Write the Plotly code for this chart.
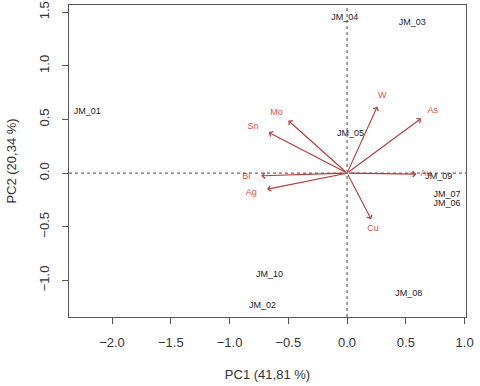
import plotly.graph_objects as go

# sample scores (PC1, PC2)
samples = ['JM_01', 'JM_02', 'JM_03', 'JM_04', 'JM_05', 'JM_06', 'JM_07', 'JM_08', 'JM_09', 'JM_10']
sample_pc1 = [-2.21, -0.72, 0.555, -0.02, 0.03, 0.85, 0.85, 0.525, 0.78, -0.66]
sample_pc2 = [0.57, -1.235, 1.406, 1.45, 0.363, -0.286, -0.205, -1.12, -0.03, -0.947]

# variable loadings (arrow tips) and label positions
variables = ['W', 'As', 'Mo', 'Sn', 'Bi', 'Ag', 'Cu', 'Au']
var_pc1 = [0.257, 0.63, -0.50, -0.667, -0.73, -0.68, 0.205, 0.59]
var_pc2 = [0.62, 0.51, 0.49, 0.38, -0.025, -0.15, -0.43, -0.01]
lab_pc1 = [0.30, 0.73, -0.60, -0.80, -0.857, -0.815, 0.22, 0.67]
lab_pc2 = [0.72, 0.58, 0.56, 0.43, -0.03, -0.186, -0.52, -0.01]

x_ticks = [-2.0, -1.5, -1.0, -0.5, 0.0, 0.5, 1.0]
y_ticks = [-1.0, -0.5, 0.0, 0.5, 1.0, 1.5]

arrow_col = '#b03c3c'
label_col = '#d9534f'

fig = go.Figure()

# variable labels
fig.add_trace(go.Scatter(
    x=lab_pc1, y=lab_pc2, text=variables, mode='text',
    textfont=dict(family='Liberation Sans', size=9, color=label_col),
    hoverinfo='skip'
))

# sample labels
fig.add_trace(go.Scatter(
    x=sample_pc1, y=sample_pc2, text=samples, mode='text',
    textfont=dict(family='Liberation Sans', size=9, color='#222222'),
    hoverinfo='skip'
))

# arrows from the origin
for vx, vy in zip(var_pc1, var_pc2):
    fig.add_annotation(
        x=vx, y=vy, ax=0, ay=0, xref='x', yref='y', axref='x', ayref='y',
        showarrow=True, arrowhead=4, arrowsize=1.0, arrowwidth=1.1,
        arrowcolor=arrow_col, text=''
    )

# dotted reference lines through zero
fig.add_shape(type='line', xref='x', yref='paper', x0=0, x1=0, y0=0, y1=1,
              line=dict(color='#444444', width=1, dash='dot'))
fig.add_shape(type='line', xref='paper', yref='y', x0=0, x1=1, y0=0, y1=0,
              line=dict(color='#444444', width=1, dash='dot'))

axis_style = dict(
    showline=True, linecolor='#555555', linewidth=1, mirror=True,
    ticks='outside', ticklen=6, tickcolor='#555555',
    showgrid=False, zeroline=False, automargin=False,
    tickfont=dict(family='Liberation Sans', size=13, color='#333333'),
)

fig.update_layout(
    width=480, height=386,
    margin=dict(l=69, r=14, t=5, b=69),
    plot_bgcolor='white', paper_bgcolor='white',
    showlegend=False,
    xaxis=dict(range=[-2.366, 1.012], tickvals=x_ticks, tickformat='.1f',
               ticklabelstandoff=7,
               title=dict(text='PC1 (41,81 %)', standoff=21,
                          font=dict(family='Liberation Sans', size=13, color='#333333')),
               **axis_style),
    yaxis=dict(range=[-1.341, 1.567], tickvals=y_ticks, tickformat='.1f', tickangle=-90,
               ticklabelstandoff=8,
               title=dict(text='PC2 (20,34 %)', standoff=17,
                          font=dict(family='Liberation Sans', size=13, color='#333333')),
               **axis_style),
)

# drop the default page margin so the figure sits at the window's corner
fig.write_html('out.html', config={'displayModeBar': False},
               post_script="document.body.style.margin='0';")
